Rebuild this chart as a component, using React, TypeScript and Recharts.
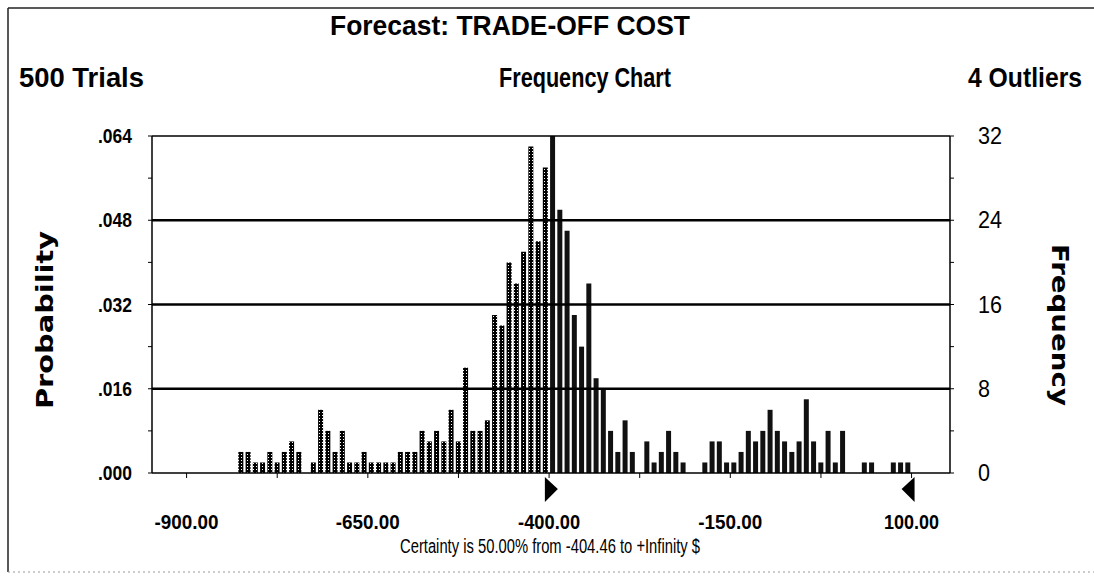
import React from 'react';
import { BarChart, Bar, XAxis, YAxis, Cell, ReferenceLine, ReferenceDot } from 'recharts';

// ---- data ----
const binCenters = [
  -895, -885, -875, -865, -855, -845, -835, -825, -815, -805,
  -795, -785, -775, -765, -755, -745, -735, -725, -715, -705,
  -695, -685, -675, -665, -655, -645, -635, -625, -615, -605,
  -595, -585, -575, -565, -555, -545, -535, -525, -515, -505,
  -495, -485, -475, -465, -455, -445, -435, -425, -415, -405,
  -395, -385, -375, -365, -355, -345, -335, -325, -315, -305,
  -295, -285, -275, -265, -255, -245, -235, -225, -215, -205,
  -195, -185, -175, -165, -155, -145, -135, -125, -115, -105,
  -95, -85, -75, -65, -55, -45, -35, -25, -15, -5,
  5, 15, 25, 35, 45, 55, 65, 75, 85, 95,
];
const frequency = [
  0, 0, 0, 0, 0, 0, 0, 2, 2, 1,
  1, 2, 1, 2, 3, 2, 0, 1, 6, 4,
  2, 4, 1, 1, 2, 1, 1, 1, 1, 2,
  2, 2, 4, 3, 4, 3, 6, 3, 10, 4,
  4, 5, 15, 14, 20, 18, 21, 31, 22, 29,
  32, 25, 23, 15, 12, 18, 9, 8, 4, 2,
  5, 2, 0, 3, 1, 2, 4, 2, 1, 0,
  0, 1, 3, 3, 1, 1, 2, 4, 3, 4,
  6, 4, 3, 2, 3, 7, 3, 1, 4, 1,
  4, 0, 0, 1, 1, 0, 0, 1, 1, 1,
];
const probTicks = [0, 0.008, 0.016, 0.024, 0.032, 0.04, 0.048, 0.056, 0.064];
const probLabels = ['.000', '', '.016', '', '.032', '', '.048', '', '.064'];
const freqTicks = [0, 4, 8, 12, 16, 20, 24, 28, 32];
const freqLabels = ['0', '', '8', '', '16', '', '24', '', '32'];
const valueTicks = [-900, -775, -650, -525, -400, -275, -150, -25, 100];
const valueLabels = ['-900.00', '', '-650.00', '', '-400.00', '', '-150.00', '', '100.00'];
const gridFreqs = [8, 16, 24];
const certaintyFrom = -404.46;
const displayMax = 100;
const xDomain = [-947.7, 153];

const data = binCenters.map((c, i) => ({ value: c, freq: frequency[i] }));

const FONT = "'Liberation Sans', Arial, sans-serif";

const textW: Record<string, number> = {
  '.000': 34, '.016': 34, '.032': 34, '.048': 34, '.064': 34,
  '0': 12, '8': 12, '16': 24, '24': 24, '32': 24,
  '-900.00': 64, '-650.00': 64, '-400.00': 62, '-150.00': 64, '100.00': 55,
};

const LeftTick = (props: any) => {
  const { x, y, payload } = props;
  const i = probTicks.indexOf(payload.value);
  const label = probLabels[i] || '';
  if (!label) return null;
  return (
    <text x={x - 14} y={y} textAnchor="end" dominantBaseline="central" fontFamily={FONT}
      fontWeight={700} fontSize={20} fill="#000" textLength={textW[label]} lengthAdjust="spacingAndGlyphs">
      {label}
    </text>
  );
};

const RightTick = (props: any) => {
  const { x, y, payload } = props;
  const i = freqTicks.indexOf(payload.value);
  const label = freqLabels[i] || '';
  if (!label) return null;
  return (
    <text x={x + 22} y={y} textAnchor="start" dominantBaseline="central" fontFamily={FONT}
      fontWeight={400} fontSize={23} fill="#000" textLength={textW[label]} lengthAdjust="spacingAndGlyphs">
      {label}
    </text>
  );
};

const BottomTick = (props: any) => {
  const { x, y, payload } = props;
  const i = valueTicks.indexOf(payload.value);
  const label = valueLabels[i] || '';
  if (!label) return null;
  return (
    <text x={x} y={y + 41} textAnchor="middle" dominantBaseline="central" fontFamily={FONT}
      fontWeight={700} fontSize={21} fill="#000" textLength={textW[label]} lengthAdjust="spacingAndGlyphs">
      {label}
    </text>
  );
};

const RightTri = (p: any) => (
  <path d={`M${p.cx - 1},${p.cy + 4} L${p.cx + 12},${p.cy + 16} L${p.cx - 1},${p.cy + 29} Z`} fill="#000" />
);
const LeftTri = (p: any) => (
  <path d={`M${p.cx + 3},${p.cy + 4} L${p.cx - 10},${p.cy + 16} L${p.cx + 3},${p.cy + 29} Z`} fill="#000" />
);

export default function App() {
  return (
    <div style={{ position: 'relative', width: 1094, height: 576, background: '#fff' }}>
      <style>{'body{margin:0;background:#fff}'}</style>
      <svg width={0} height={0} style={{ position: 'absolute' }}>
        <defs>
          <pattern id="dither" width="3" height="3" patternUnits="userSpaceOnUse">
            <rect width="3" height="3" fill="#000" />
            <rect x="1" y="1" width="1" height="1" fill="#fff" />
          </pattern>
        </defs>
      </svg>
      <div style={{ position: 'absolute', left: 0, top: 0 }}>
        <BarChart width={1094} height={576} data={data} margin={{ top: 136, right: 84, bottom: 73, left: 92 }} barSize={5}>
          <XAxis dataKey="value" type="number" domain={xDomain} ticks={valueTicks} tick={<BottomTick />}
            axisLine={{ stroke: '#000', strokeWidth: 1.5 }} tickLine={{ stroke: '#000' }} tickSize={5} height={30}
            allowDataOverflow interval={0} />
          <YAxis yAxisId="p" type="number" domain={[0, 0.064]} ticks={probTicks} tick={<LeftTick />}
            axisLine={{ stroke: '#000', strokeWidth: 1.5 }} tickLine={{ stroke: '#000' }} tickSize={4} width={60}
            interval={0} allowDataOverflow />
          <YAxis yAxisId="f" orientation="right" type="number" domain={[0, 32]} ticks={freqTicks} tick={<RightTick />}
            axisLine={{ stroke: '#000', strokeWidth: 1.5 }} tickLine={{ stroke: '#000' }} tickSize={4} width={60}
            interval={0} allowDataOverflow />
          {gridFreqs.map((g) => (
            <ReferenceLine key={g} yAxisId="f" y={g} stroke="#000" strokeWidth={2.5} />
          ))}
          <ReferenceLine yAxisId="f" y={32} stroke="#000" strokeWidth={1.5} />
          <Bar dataKey="freq" yAxisId="f" isAnimationActive={false}>
            {data.map((d, i) => (
              <Cell key={i} fill={d.value < certaintyFrom ? 'url(#dither)' : '#111'} />
            ))}
          </Bar>
          <ReferenceDot yAxisId="f" x={certaintyFrom} y={0} r={0} ifOverflow="visible" shape={<RightTri />} />
          <ReferenceDot yAxisId="f" x={displayMax} y={0} r={0} ifOverflow="visible" shape={<LeftTri />} />
        </BarChart>
      </div>
      <svg width={1094} height={576} style={{ position: 'absolute', left: 0, top: 0, pointerEvents: 'none' }}>
        <line x1={8} y1={8} x2={1094} y2={8} stroke="#222" strokeWidth={1.5} />
        <line x1={8} y1={8} x2={8} y2={572} stroke="#222" strokeWidth={1.5} />
        <line x1={8} y1={572} x2={1094} y2={572} stroke="#999" strokeWidth={1} strokeDasharray="2 3" />
        <text x={510} y={26} textAnchor="middle" dominantBaseline="central" fontFamily={FONT} fontWeight={700}
          fontSize={27} textLength={360} lengthAdjust="spacingAndGlyphs">Forecast: TRADE-OFF COST</text>
        <text x={19} y={78} textAnchor="start" dominantBaseline="central" fontFamily={FONT} fontWeight={700}
          fontSize={27} textLength={125} lengthAdjust="spacingAndGlyphs">500 Trials</text>
        <text x={585} y={78} textAnchor="middle" dominantBaseline="central" fontFamily={FONT} fontWeight={700}
          fontSize={27} textLength={172} lengthAdjust="spacingAndGlyphs">Frequency Chart</text>
        <text x={1082} y={78} textAnchor="end" dominantBaseline="central" fontFamily={FONT} fontWeight={700}
          fontSize={27} textLength={114} lengthAdjust="spacingAndGlyphs">4 Outliers</text>
        <text transform="translate(45,320) rotate(-90)" textAnchor="middle" dominantBaseline="central"
          fontFamily="'DejaVu Sans', sans-serif" fontWeight={700} fontSize={23} textLength={178}
          lengthAdjust="spacingAndGlyphs">Probability</text>
        <text transform="translate(1060,325) rotate(90)" textAnchor="middle" dominantBaseline="central"
          fontFamily="'DejaVu Sans', sans-serif" fontWeight={700} fontSize={23} textLength={162}
          lengthAdjust="spacingAndGlyphs">Frequency</text>
        <text x={550} y={546} textAnchor="middle" dominantBaseline="central" fontFamily={FONT} fontWeight={400}
          fontSize={20} textLength={300} lengthAdjust="spacingAndGlyphs">Certainty is 50.00% from -404.46 to +Infinity $</text>
      </svg>
    </div>
  );
}
